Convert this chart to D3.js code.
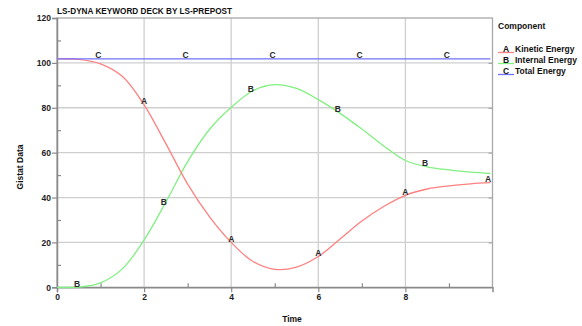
<!DOCTYPE html>
<html>
<head>
<meta charset="utf-8">
<script src="https://cdn.jsdelivr.net/npm/d3@7"></script>
<style>
  body { margin: 0; background: #fff; }
  svg { font-family: "Liberation Sans", Arial, sans-serif; }
</style>
</head>
<body>
<svg id="chart" width="582" height="326"></svg>
<script>
// time samples
let times = [0, 0.5, 1, 1.5, 2, 2.5, 3, 3.5, 4, 4.5, 5, 5.5, 6, 6.5, 7, 7.5, 8, 8.5, 9, 9.5, 9.95];
// A - kinetic energy
let kinetic = [101.8, 101.6, 99.6, 94.0, 81.3, 64.0, 46.0, 31.5, 20.0, 11.5, 8.0, 9.0, 13.7, 21.5, 29.5, 36.0, 41.0, 43.8, 45.2, 46.1, 46.6];
// B - internal energy
let internal = [0, 0.1, 2.0, 8.2, 21.1, 38.0, 56.0, 70.3, 80.2, 87.6, 90.3, 88.6, 83.6, 77.5, 70.5, 63.0, 56.5, 53.7, 52.3, 51.3, 50.7];
// C - total energy
let total = [101.8, 101.8, 101.8, 101.8, 101.8, 101.8, 101.8, 101.8, 101.8, 101.8, 101.8, 101.8, 101.8, 101.8, 101.8, 101.8, 101.8, 101.8, 101.8, 101.8, 101.8];

let seriesNames = ["Kinetic Energy", "Internal Energy", "Total Energy"];
let seriesLetters = ["A", "B", "C"];
let seriesColors = ["#ff8080", "#80f080", "#7070ff"];
// where the letter symbols sit along each curve
let labelTimes = [
    [2, 4, 6, 8, 9.9],
    [0.46, 2.45, 4.45, 6.45, 8.45],
    [0.95, 2.95, 4.95, 6.95, 8.95]
];

let xMajor = [0, 2, 4, 6, 8];
let xMinor = [1, 3, 5, 7, 9];
let yMajor = [0, 20, 40, 60, 80, 100, 120];
let yMinor = [10, 30, 50, 70, 90, 110];

let svg = d3.select("#chart");
let plotLeft = 57, plotRight = 492.5, plotTop = 18, plotBottom = 287.3;

let xScale = d3.scaleLinear().domain([0, 10]).range([plotLeft, plotRight]);
let yScale = d3.scaleLinear().domain([0, 120]).range([plotBottom, plotTop]);

let allValues = [kinetic, internal, total];

// grid lines
let grid = svg.append("g");
grid.selectAll(".vg").data(xMajor.filter(d => d > 0)).enter().append("line")
    .attr("x1", d => xScale(d)).attr("x2", d => xScale(d))
    .attr("y1", plotTop).attr("y2", plotBottom)
    .attr("stroke", "#cfcfcf").attr("stroke-width", 1.3);
grid.selectAll(".hg").data(yMajor.filter(d => d > 0 && d < 120)).enter().append("line")
    .attr("x1", plotLeft).attr("x2", plotRight)
    .attr("y1", d => yScale(d)).attr("y2", d => yScale(d))
    .attr("stroke", "#cfcfcf").attr("stroke-width", 1.3);

// frame
svg.append("rect")
    .attr("x", plotLeft).attr("y", plotTop)
    .attr("width", plotRight - plotLeft).attr("height", plotBottom - plotTop)
    .attr("fill", "none").attr("stroke", "#a8a8a8").attr("stroke-width", 1.3);

// axes
let xAxis = d3.axisBottom(xScale).tickValues(xMajor).tickSize(5).tickPadding(2).tickFormat(d3.format("d"));
let yAxis = d3.axisLeft(yScale).tickValues(yMajor).tickSize(5).tickPadding(1).tickFormat(d3.format("d"));

let gx = svg.append("g").attr("transform", "translate(0," + plotBottom + ")").call(xAxis);
let gy = svg.append("g").attr("transform", "translate(" + plotLeft + ",0)").call(yAxis);
[gx, gy].forEach(function(g) {
    g.select(".domain").attr("stroke", "#8a8a8a").attr("stroke-width", 1.5);
    g.selectAll(".tick line").attr("stroke", "#8a8a8a").attr("stroke-width", 1.2);
    g.selectAll("text").attr("fill", "#222").style("font-size", "8.5px").style("font-weight", "bold")
        .style("font-family", "'Liberation Sans', Arial, sans-serif");
});

// minor ticks pointing inward
svg.append("g").call(d3.axisTop(xScale).tickValues(xMinor).tickSize(4).tickFormat(""))
    .attr("transform", "translate(0," + plotBottom + ")")
    .call(g => g.select(".domain").remove())
    .selectAll("line").attr("stroke", "#8a8a8a").attr("stroke-width", 1.2);
svg.append("g").call(d3.axisRight(yScale).tickValues(yMinor).tickSize(4).tickFormat(""))
    .attr("transform", "translate(" + plotLeft + ",0)")
    .call(g => g.select(".domain").remove())
    .selectAll("line").attr("stroke", "#8a8a8a").attr("stroke-width", 1.2);
// ticks on the right border
svg.append("g").call(d3.axisLeft(yScale).tickValues(yMajor.filter(d => d > 0 && d < 120)).tickSize(4).tickFormat(""))
    .attr("transform", "translate(" + plotRight + ",0)")
    .call(g => g.select(".domain").remove())
    .selectAll("line").attr("stroke", "#a8a8a8").attr("stroke-width", 1.2);

// curves
let line = d3.line()
    .x(d => xScale(d[0]))
    .y(d => yScale(d[1]))
    .curve(d3.curveCatmullRom.alpha(0.5));

let drawOrder = [1, 0, 2];
drawOrder.forEach(function(i) {
    let pts = times.map((t, j) => [t, allValues[i][j]]);
    svg.append("path")
        .datum(pts)
        .attr("d", line)
        .attr("fill", "none")
        .attr("stroke", seriesColors[i])
        .attr("stroke-width", 1.3);
});

// letter symbols on curves
function valueAt(vals, t) {
    let k = d3.bisectRight(times, t) - 1;
    k = Math.max(0, Math.min(times.length - 2, k));
    let f = (t - times[k]) / (times[k + 1] - times[k]);
    return vals[k] + (vals[k + 1] - vals[k]) * f;
}
allValues.forEach(function(vals, i) {
    svg.append("g").selectAll("text")
        .data(labelTimes[i]).enter().append("text")
        .attr("x", d => xScale(d))
        .attr("y", d => yScale(valueAt(vals, d)) - 0.5)
        .attr("text-anchor", "middle")
        .attr("fill", "#2a2a2a")
        .style("font-size", "8.5px")
        .style("font-weight", "bold")
        .text(seriesLetters[i]);
});

// title
svg.append("text")
    .attr("x", plotLeft).attr("y", 14)
    .attr("fill", "#111")
    .style("font-size", "8.5px").style("font-weight", "bold")
    .attr("textLength", 175).attr("lengthAdjust", "spacingAndGlyphs")
    .text("LS-DYNA KEYWORD DECK BY LS-PREPOST");

// axis titles
svg.append("text")
    .attr("x", 292).attr("y", 322)
    .attr("text-anchor", "middle").attr("fill", "#111")
    .style("font-size", "8.5px").style("font-weight", "bold")
    .text("Time");
svg.append("text")
    .attr("transform", "translate(23,167) rotate(-90)")
    .attr("text-anchor", "middle").attr("fill", "#111")
    .style("font-size", "8.5px").style("font-weight", "bold")
    .text("Gistat Data");

// legend
let legend = svg.append("g");
legend.append("text")
    .attr("x", 498).attr("y", 29)
    .attr("fill", "#111")
    .style("font-size", "8.5px").style("font-weight", "bold")
    .text("Component");
seriesNames.forEach(function(name, i) {
    let y = 52 + i * 11;
    legend.append("line")
        .attr("x1", 498).attr("x2", 514)
        .attr("y1", y + 0.5).attr("y2", y + 0.5)
        .attr("stroke", seriesColors[i]).attr("stroke-width", 1.3);
    legend.append("text")
        .attr("x", 506).attr("y", y - 0.5)
        .attr("text-anchor", "middle").attr("fill", "#111")
        .style("font-size", "8.5px").style("font-weight", "bold")
        .text(seriesLetters[i]);
    legend.append("text")
        .attr("x", 515).attr("y", y - 0.5)
        .attr("fill", "#111")
        .style("font-size", "8.5px").style("font-weight", "bold")
        .text(name);
});
</script>
</body>
</html>
